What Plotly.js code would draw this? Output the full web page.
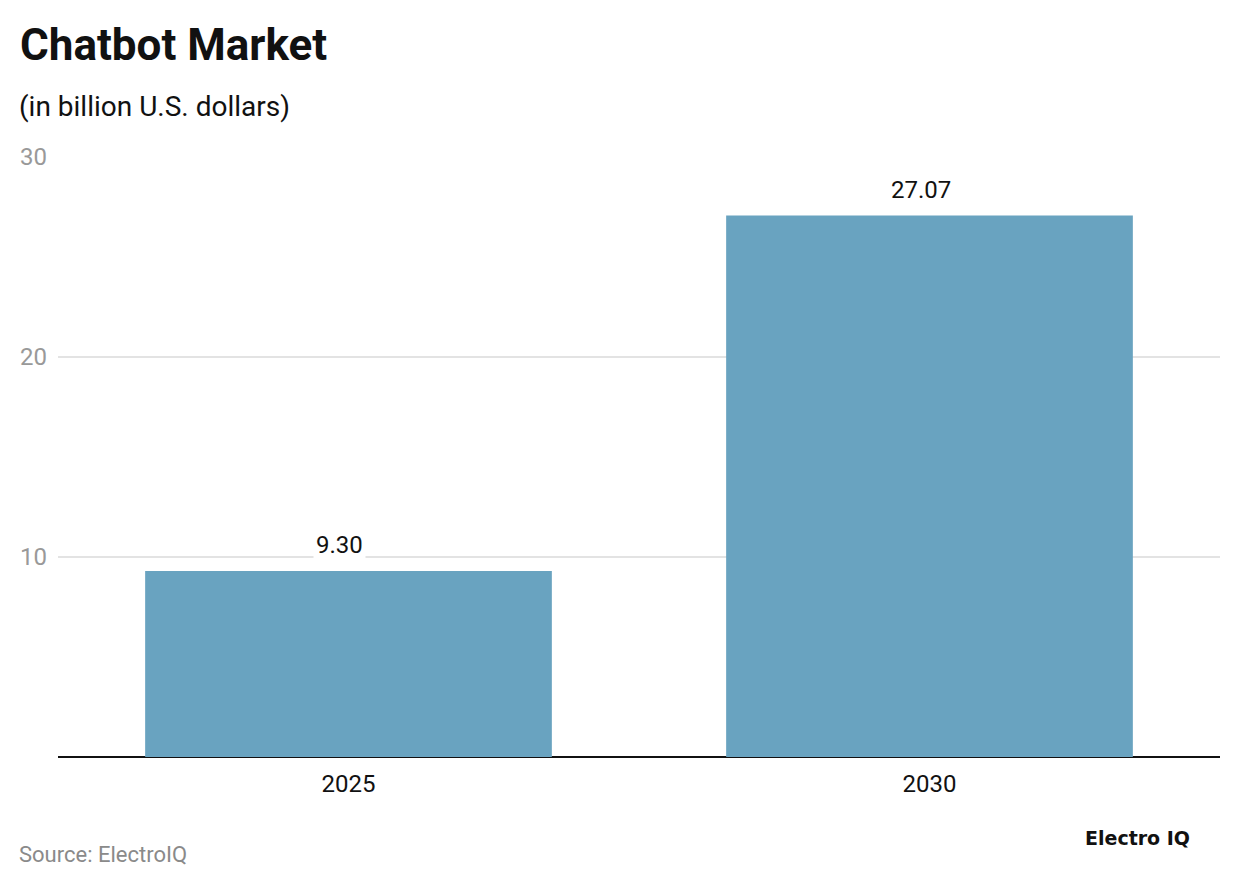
<!DOCTYPE html>
<html><head><meta charset="utf-8">
<script src="https://cdn.plot.ly/plotly-3.0.1.min.js"></script>
<style>html,body{margin:0;padding:0;background:#fff}#c{width:1240px;height:888px}</style>
</head><body><div id="c"></div>
<script>
const categories = ["2025", "2030"];
const values = [9.30, 27.07];
const labels = ["9.30", "27.07"];
const yTicks = [10, 20, 30];

const trace = {
  type: "bar", x: categories, y: values,
  marker: {color: "#69a3c0"}, hoverinfo: "none"
};
const annotations = categories.map((c, i) => ({
  x: i, y: values[i], xref: "x", yref: "y", text: labels[i],
  showarrow: false, yanchor: "bottom", yshift: 9, xshift: -9,
  bgcolor: "#ffffff", borderpad: 2,
  font: {family: "Roboto", size: 24, color: "#111"}
}));
annotations.push(
  {xref: "paper", yref: "paper", x: -0.034, y: 1.187, xanchor: "left", yanchor: "middle",
   text: "<b>Chatbot Market</b>", showarrow: false,
   font: {family: "Roboto", size: 44, color: "#111"}},
  {xref: "paper", yref: "paper", x: -0.035, y: 1.085, xanchor: "left", yanchor: "middle",
   text: "(in billion U.S. dollars)", showarrow: false,
   font: {family: "Roboto", size: 28, color: "#111"}},
  {xref: "paper", yref: "paper", x: -0.035, y: -0.163, xanchor: "left", yanchor: "middle",
   text: "Source: ElectroIQ", showarrow: false,
   font: {family: "Roboto", size: 22, color: "#8a8a8a"}},
  {xref: "paper", yref: "paper", x: 0.976, y: -0.135, xanchor: "right", yanchor: "middle",
   text: "<b>Electro IQ</b>", showarrow: false,
   font: {family: "DejaVu Sans", size: 19, color: "#111"}}
);
const layout = {
  width: 1240, height: 888,
  margin: {l: 58, r: 20, t: 157, b: 131},
  paper_bgcolor: "#fff", plot_bgcolor: "#fff",
  bargap: 0.3, showlegend: false,
  xaxis: {type: "category", range: [-0.5, 1.5], autorange: false,
    showgrid: false, zeroline: false, showline: false,
    tickfont: {family: "Roboto", size: 24, color: "#111"}, ticks: "",
    ticklabelstandoff: 10, fixedrange: true},
  yaxis: {range: [0, 30], autorange: false, tickvals: yTicks, ticktext: yTicks.map(String),
    showgrid: true, gridcolor: "#e3e3e3", gridwidth: 1.5,
    zeroline: true, zerolinecolor: "#111", zerolinewidth: 2,
    tickfont: {family: "Roboto", size: 24, color: "#999"}, ticklabelstandoff: 10,
    ticks: "", showline: false, fixedrange: true},
  annotations: annotations
};
Plotly.newPlot("c", [trace], layout, {displayModeBar: false, staticPlot: true});
</script></body></html>
